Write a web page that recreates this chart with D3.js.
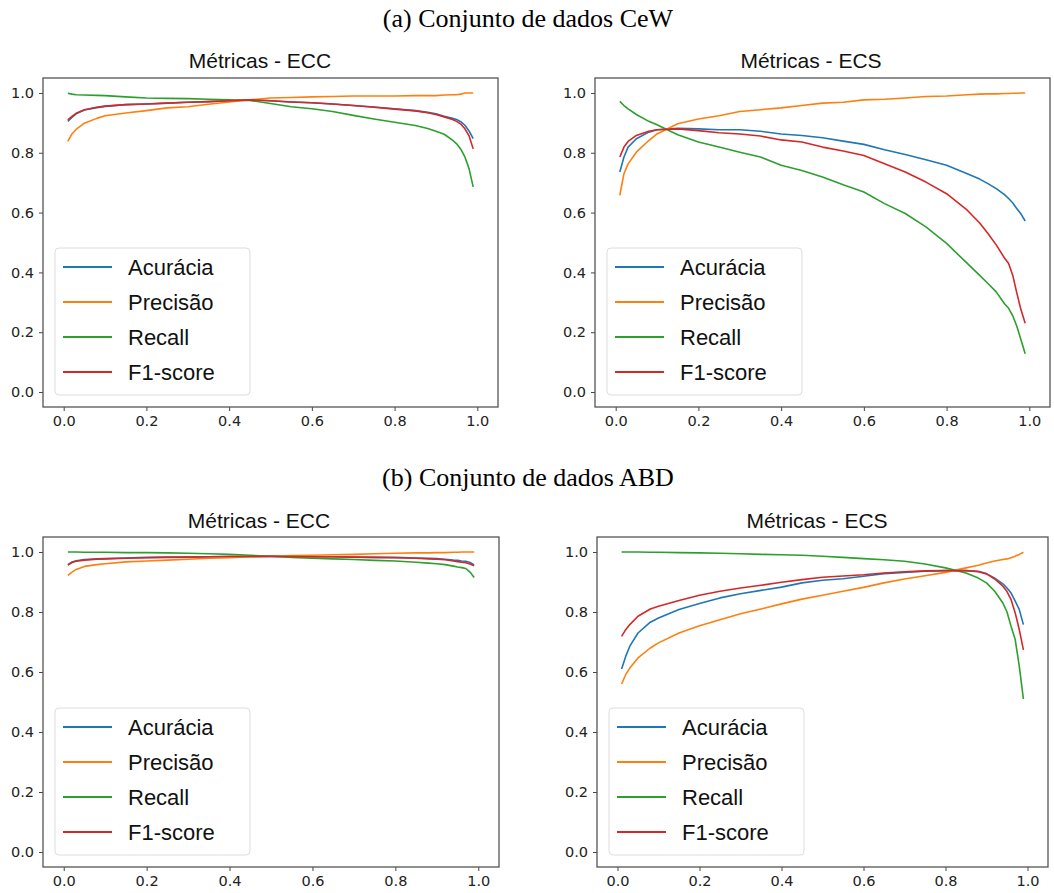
<!DOCTYPE html>
<html>
<head>
<meta charset="utf-8">
<script src="https://cdn.jsdelivr.net/npm/d3@7"></script>
<style>
  body { margin: 0; background: #fff; }
  svg { display: block; }
</style>
</head>
<body>
<svg width="1054" height="893"></svg>
<script>
// thresholds on the x axis
const thresholds = [0.01,0.02,0.03,0.05,0.08,0.10,0.15,0.20,0.25,0.30,0.35,0.40,0.45,0.50,0.55,0.60,0.65,0.70,0.75,0.80,0.85,0.88,0.90,0.92,0.94,0.95,0.96,0.97,0.98,0.99];
const xTicks = [0.0, 0.2, 0.4, 0.6, 0.8, 1.0];
const yTicks = [0.0, 0.2, 0.4, 0.6, 0.8, 1.0];
const seriesNames = ["Acurácia", "Precisão", "Recall", "F1-score"];
const colors = ["#1f77b4", "#ff7f0e", "#2ca02c", "#d62728"];

// (a) CeW - ECC
const cewEccAcc  = [.905,.918,.930,.943,.951,.955,.961,.963,.966,.969,.971,.974,.977,.974,.970,.967,.963,.958,.953,.947,.941,.935,.930,.922,.915,.911,.904,.892,.873,.847];
const cewEccPrec = [.838,.863,.878,.899,.915,.924,.933,.941,.950,.954,.962,.970,.977,.983,.985,.987,.988,.990,.990,.990,.991,.991,.991,.993,.994,.994,.996,1.0,1.0,1.0];
const cewEccRec  = [.999,.996,.994,.993,.992,.991,.987,.983,.982,.981,.979,.977,.975,.965,.954,.947,.938,.925,.913,.902,.891,.881,.872,.862,.842,.830,.812,.786,.747,.686];
const cewEccF1   = [.910,.922,.932,.944,.952,.956,.961,.963,.966,.969,.971,.974,.977,.974,.970,.967,.963,.958,.952,.946,.940,.934,.928,.920,.911,.905,.896,.880,.857,.813];

// (a) CeW - ECS
const cewEcsAcc  = [.736,.786,.819,.847,.869,.877,.882,.880,.877,.877,.872,.863,.858,.850,.839,.828,.810,.794,.777,.758,.730,.712,.697,.680,.660,.647,.632,.613,.595,.572];
const cewEcsPrec = [.658,.730,.763,.802,.841,.863,.897,.913,.924,.938,.944,.950,.958,.966,.969,.977,.979,.983,.988,.990,.994,.996,.997,.997,.998,.998,.999,.999,1.0,1.0];
const cewEcsRec  = [.972,.958,.947,.928,.905,.894,.860,.836,.819,.802,.786,.758,.741,.719,.693,.669,.630,.597,.552,.497,.430,.390,.363,.335,.295,.280,.255,.219,.174,.128];
const cewEcsF1   = [.786,.819,.838,.858,.872,.877,.880,.874,.867,.863,.856,.843,.836,.819,.806,.791,.763,.736,.702,.663,.608,.565,.530,.492,.448,.430,.390,.330,.274,.230];

// (b) ABD - ECC
const abdEccAcc  = [.958,.967,.971,.975,.977,.978,.980,.982,.983,.983,.984,.985,.985,.986,.985,.984,.984,.983,.982,.982,.980,.979,.978,.976,.973,.972,.970,.969,.965,.957];
const abdEccPrec = [.922,.933,.942,.952,.958,.961,.967,.970,.973,.976,.979,.981,.984,.986,.988,.989,.991,.992,.994,.996,.997,.997,.998,.998,.999,.999,1.0,1.0,1.0,1.0];
const abdEccRec  = [1.0,1.0,1.0,.999,.999,.999,.998,.998,.997,.996,.994,.992,.989,.986,.982,.979,.977,.975,.972,.970,.966,.963,.961,.958,.953,.950,.948,.945,.933,.915];
const abdEccF1   = [.956,.965,.969,.973,.976,.977,.979,.981,.982,.983,.984,.985,.985,.986,.985,.984,.984,.983,.982,.981,.979,.977,.976,.974,.970,.968,.966,.964,.960,.954];

// (b) ABD - ECS
const abdEcsAcc  = [.610,.652,.686,.730,.766,.780,.808,.828,.847,.861,.872,.883,.897,.906,.911,.919,.928,.932,.936,.938,.938,.936,.928,.913,.894,.880,.863,.836,.808,.758];
const abdEcsPrec = [.560,.591,.613,.647,.680,.697,.730,.754,.774,.794,.810,.827,.843,.856,.869,.882,.897,.910,.921,.932,.947,.956,.963,.970,.975,.977,.981,.986,.992,.999];
const abdEcsRec  = [1.0,1.0,1.0,1.0,.999,.999,.998,.997,.996,.994,.992,.991,.989,.986,.982,.978,.974,.969,.960,.947,.930,.913,.897,.869,.830,.800,.752,.708,.619,.510];
const abdEcsF1   = [.719,.741,.758,.786,.810,.819,.838,.856,.869,.880,.889,.899,.908,.916,.920,.924,.930,.934,.937,.938,.938,.934,.927,.910,.886,.868,.841,.797,.741,.674];

const svg = d3.select("svg");

// figure captions
svg.append("text")
    .attr("x", 528).attr("y", 27)
    .attr("text-anchor", "middle")
    .style("font-family", "'Liberation Serif', 'Times New Roman', serif")
    .style("font-size", "26px")
    .text("(a) Conjunto de dados CeW");
svg.append("text")
    .attr("x", 528).attr("y", 486)
    .attr("text-anchor", "middle")
    .style("font-family", "'Liberation Serif', 'Times New Roman', serif")
    .style("font-size", "26px")
    .text("(b) Conjunto de dados ABD");

const panels = [
    {title: "Métricas - ECC", left: 43,  right: 498,  top: 78,  bottom: 407, titleX: 260, titleY: 68,
     series: [cewEccAcc, cewEccPrec, cewEccRec, cewEccF1]},
    {title: "Métricas - ECS", left: 595, right: 1050, top: 78,  bottom: 407, titleX: 811, titleY: 68,
     series: [cewEcsAcc, cewEcsPrec, cewEcsRec, cewEcsF1]},
    {title: "Métricas - ECC", left: 43,  right: 499,  top: 537, bottom: 867, titleX: 259, titleY: 528,
     series: [abdEccAcc, abdEccPrec, abdEccRec, abdEccF1]},
    {title: "Métricas - ECS", left: 597, right: 1048, top: 537, bottom: 867, titleX: 817, titleY: 528,
     series: [abdEcsAcc, abdEcsPrec, abdEcsRec, abdEcsF1]},
];

panels.forEach(drawPanel);

function drawPanel(p) {
    const x = d3.scaleLinear().domain([-0.05, 1.05]).range([p.left, p.right]);
    const y = d3.scaleLinear().domain([-0.05, 1.05]).range([p.bottom, p.top]);
    const g = svg.append("g");

    // title
    g.append("text")
        .attr("x", p.titleX).attr("y", p.titleY)
        .attr("text-anchor", "middle")
        .style("font-family", "'Liberation Sans', Arial, sans-serif")
        .style("font-size", "21px")
        .style("fill", "#111")
        .text(p.title);

    // curves
    p.series.forEach((vals, i) => {
        const line = d3.line()
            .x((d, j) => x(thresholds[j]))
            .y(d => y(d));
        g.append("path")
            .datum(vals)
            .attr("d", line)
            .attr("fill", "none")
            .attr("stroke", colors[i])
            .attr("stroke-width", 1.6)
            .attr("stroke-linejoin", "round");
    });

    // axes
    const xAxis = g.append("g")
        .attr("transform", `translate(0, ${p.bottom})`)
        .call(d3.axisBottom(x).tickValues(xTicks).tickFormat(d3.format(".1f")).tickSizeOuter(0).tickSize(4).tickPadding(5));
    const yAxis = g.append("g")
        .attr("transform", `translate(${p.left}, 0)`)
        .call(d3.axisLeft(y).tickValues(yTicks).tickFormat(d3.format(".1f")).tickSizeOuter(0).tickSize(4).tickPadding(5));
    [xAxis, yAxis].forEach(a => {
        a.select(".domain").remove();
        a.selectAll(".tick line").attr("stroke", "#444");
        a.selectAll(".tick text")
            .style("font-family", "'DejaVu Sans', sans-serif")
            .style("font-size", "14.5px")
            .attr("fill", "#222");
    });

    // frame
    g.append("rect")
        .attr("x", p.left).attr("y", p.top)
        .attr("width", p.right - p.left).attr("height", p.bottom - p.top)
        .attr("fill", "none")
        .attr("stroke", "#555")
        .attr("stroke-width", 1.3);

    // legend
    const lx = p.left + 12, lw = 195, lh = 147;
    const ly = p.bottom - 12 - lh;
    const legend = g.append("g").attr("transform", `translate(${lx}, ${ly})`);
    legend.append("rect")
        .attr("width", lw).attr("height", lh)
        .attr("rx", 4)
        .attr("fill", "white").attr("fill-opacity", 0.8)
        .attr("stroke", "#ddd");
    seriesNames.forEach((name, i) => {
        const cy = 19 + i * 35;
        legend.append("line")
            .attr("x1", 8).attr("x2", 57)
            .attr("y1", cy).attr("y2", cy)
            .attr("stroke", colors[i])
            .attr("stroke-width", 2);
        legend.append("text")
            .attr("x", 73).attr("y", cy + 8)
            .style("font-family", "'Liberation Sans', Arial, sans-serif")
            .style("font-size", "22px")
            .style("fill", "#111")
            .text(name);
    });
}
</script>
</body>
</html>
